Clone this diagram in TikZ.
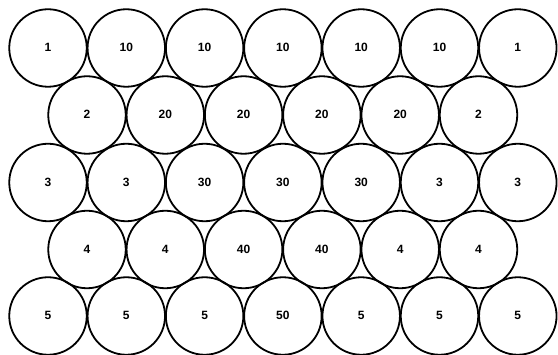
\documentclass[tikz,border=0pt]{standalone}
\usepackage{fontspec}
\setmainfont{Liberation Sans}
\begin{document}
\begin{tikzpicture}[x=1pt,y=-1pt,
  ball/.style={circle,draw=black,line width=1.8pt,minimum size=77.5pt,inner sep=0pt,
    text height=8pt,text depth=0pt,
    font=\fontsize{12}{14}\selectfont\bfseries}]
\useasboundingbox (0,0) rectangle (558,355);
\def\dx{78.3}
\foreach \t [count=\i from 0] in {1,10,10,10,10,10,1}
  \node[ball] (a\i) at (48+\i*\dx,48) {\t};
\foreach \t [count=\i from 0] in {2,20,20,20,20,2}
  \node[ball] (b\i) at (87+\i*\dx,115) {\t};
\foreach \t [count=\i from 0] in {3,3,30,30,30,3,3}
  \node[ball] (c\i) at (48+\i*\dx,182.5) {\t};
\foreach \t [count=\i from 0] in {4,4,40,40,4,4}
  \node[ball] (d\i) at (87+\i*\dx,249.5) {\t};
\foreach \t [count=\i from 0] in {5,5,5,50,5,5,5}
  \node[ball] (e\i) at (48+\i*\dx,316) {\t};
\end{tikzpicture}
\end{document}
